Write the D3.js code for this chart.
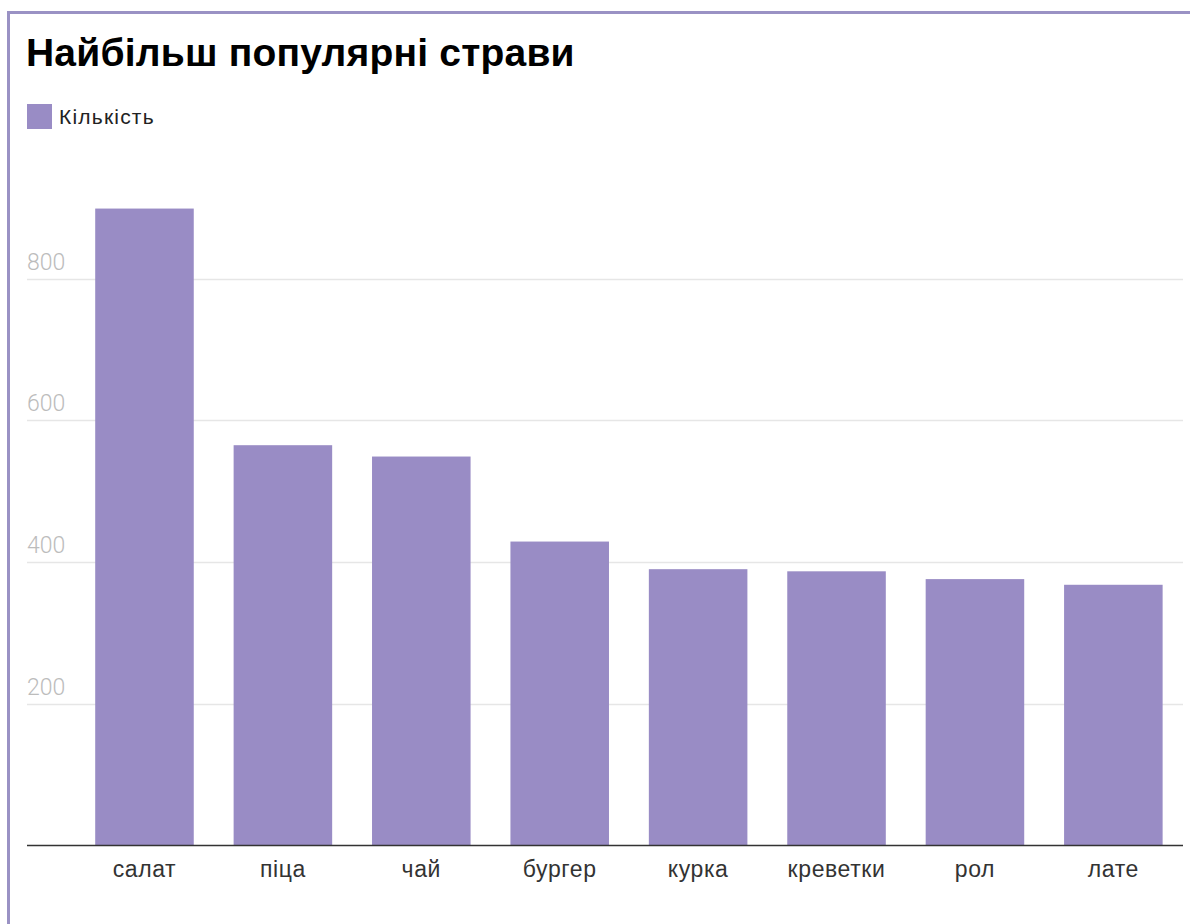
<!DOCTYPE html>
<html>
<head>
<meta charset="utf-8">
<script src="https://cdn.jsdelivr.net/npm/d3@7"></script>
<style>
  html, body { margin: 0; padding: 0; background: #fff; }
  svg { display: block; }
</style>
</head>
<body>
<script>
// Dish names and order counts
const dishes = ["салат", "піца", "чай", "бургер", "курка", "креветки", "рол", "лате"];
const counts = [899, 565, 549, 429, 390, 387, 376, 368];
const yTicks = [200, 400, 600, 800];
const titleText = "Найбільш популярні страви";
const legendLabel = "Кількість";

const W = 1190, H = 924;
const barColor = "#998cc5";
const frameColor = "#9a92c4";

const svg = d3.select("body").append("svg")
  .attr("width", W).attr("height", H);

// frame: only top and left edges are visible
svg.append("rect")
  .attr("x", 8.5).attr("y", 12.5)
  .attr("width", W + 20).attr("height", H + 20)
  .attr("fill", "none")
  .attr("stroke", frameColor)
  .attr("stroke-width", 3);

const plotLeft = 27, plotRight = 1183;
const baseY = 845.5;

const x = d3.scaleBand()
  .domain(dishes)
  .range([plotLeft, plotRight])
  .paddingInner(0.288)
  .paddingOuter(0.32)
  .align(0.77);

const y = d3.scaleLinear()
  .domain([0, 1000])
  .range([baseY, baseY - 708.5]);

// gridlines with labels sitting above them
const grid = svg.append("g");
grid.selectAll("line").data(yTicks).join("line")
  .attr("x1", plotLeft).attr("x2", plotRight)
  .attr("y1", d => Math.round(y(d)) + 0.5)
  .attr("y2", d => Math.round(y(d)) + 0.5)
  .attr("stroke", "#e6e6e6")
  .attr("stroke-width", 1.5);
grid.selectAll("text").data(yTicks).join("text")
  .attr("x", plotLeft)
  .attr("y", d => y(d) - 9)
  .attr("font-family", "Roboto, 'Liberation Sans', sans-serif")
  .attr("font-weight", 300)
  .attr("font-size", 23)
  .attr("fill", "#bcbcbc")
  .text(d => d);

// bars
svg.append("g").selectAll("rect").data(dishes).join("rect")
  .attr("x", d => x(d))
  .attr("width", x.bandwidth())
  .attr("y", (d, i) => y(counts[i]))
  .attr("height", (d, i) => y(0) - y(counts[i]))
  .attr("fill", barColor);

// baseline
svg.append("line")
  .attr("x1", plotLeft).attr("x2", plotRight)
  .attr("y1", baseY).attr("y2", baseY)
  .attr("stroke", "#333")
  .attr("stroke-width", 1.5);

// category labels
svg.append("g").selectAll("text").data(dishes).join("text")
  .attr("x", d => x(d) + x.bandwidth() / 2)
  .attr("y", 877)
  .attr("text-anchor", "middle")
  .attr("font-family", "'Liberation Sans', Arial, sans-serif")
  .attr("font-size", 23)
  .attr("letter-spacing", 0.6)
  .attr("fill", "#333")
  .text(d => d);

// title
svg.append("text")
  .attr("x", 26)
  .attr("y", 66)
  .attr("font-family", "'Liberation Sans', Arial, sans-serif")
  .attr("font-weight", "bold")
  .attr("font-size", 39)
  .attr("letter-spacing", 0.2)
  .attr("fill", "#000")
  .text(titleText);

// legend
svg.append("rect")
  .attr("x", 27).attr("y", 104)
  .attr("width", 25).attr("height", 25)
  .attr("fill", barColor);
svg.append("text")
  .attr("x", 59).attr("y", 124)
  .attr("font-family", "'Liberation Sans', Arial, sans-serif")
  .attr("font-size", 21)
  .attr("letter-spacing", 1.2)
  .attr("fill", "#222")
  .text(legendLabel);
</script>
</body>
</html>
